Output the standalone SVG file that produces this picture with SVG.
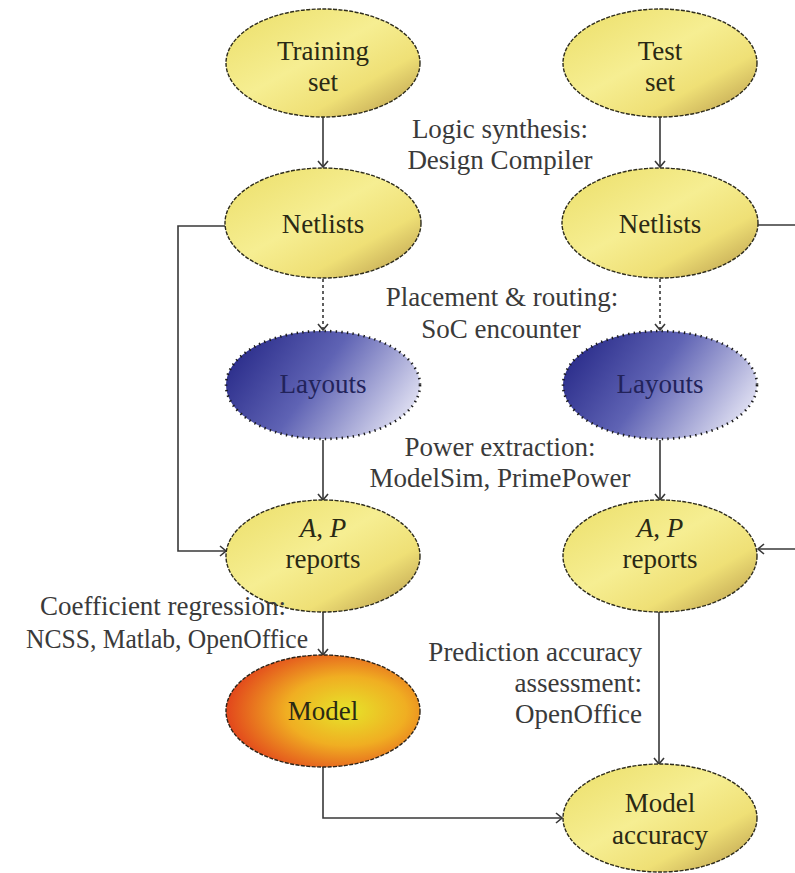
<svg xmlns="http://www.w3.org/2000/svg" width="795" height="873" viewBox="0 0 795 873">
  <style>
    .lbl { font-family: "Liberation Serif", "Times New Roman", serif; font-size: 27px; fill: #3a3a3a; }
    .node-txt { font-family: "Liberation Serif", "Times New Roman", serif; font-size: 27px; fill: #2a2914; text-anchor: middle; }
    .blue-txt { fill: #22235a; }
    .yellow { fill: url(#gYellow); stroke: #2e2c1c; stroke-width: 1.4; stroke-dasharray: 4 1.4; }
    .blue { fill: url(#gBlue); stroke: #1a1a1a; stroke-width: 2.6; stroke-dasharray: 1.4 4.2; }
    .orange { fill: url(#gOrange); stroke: #2e2418; stroke-width: 1.4; stroke-dasharray: 4 1.4; }
    .conn { fill: none; stroke: #383838; stroke-width: 1.6; }
    .dotted { stroke-dasharray: 3 3; }
  </style>
  <defs>
    <linearGradient id="gYellow" x1="0" y1="0" x2="1" y2="1">
      <stop offset="0" stop-color="#ebde68"/>
      <stop offset="0.45" stop-color="#f6ee92"/>
      <stop offset="0.7" stop-color="#efe076"/>
      <stop offset="1" stop-color="#b39448"/>
    </linearGradient>
    <linearGradient id="gBlue" x1="0" y1="0.3" x2="1" y2="0.7">
      <stop offset="0" stop-color="#2a2c8a"/>
      <stop offset="0.45" stop-color="#5f63b4"/>
      <stop offset="1" stop-color="#e4e4f4"/>
    </linearGradient>
    <radialGradient id="gOrange" cx="0.62" cy="0.5" r="0.62">
      <stop offset="0" stop-color="#e6e42a"/>
      <stop offset="0.5" stop-color="#f0ae22"/>
      <stop offset="1" stop-color="#e2461c"/>
    </radialGradient>
    <marker id="arrow" viewBox="0 0 12 12" refX="11" refY="6" markerWidth="12" markerHeight="12" markerUnits="userSpaceOnUse" orient="auto">
      <path d="M5,1 L11,6 L5,11" fill="none" stroke="#383838" stroke-width="1.6"/>
    </marker>
  </defs>

  <!-- connectors -->
  <g id="connectors">
    <line class="conn" x1="323" y1="117" x2="323" y2="167" marker-end="url(#arrow)"/>
    <line class="conn dotted" x1="323" y1="279" x2="323" y2="330" marker-end="url(#arrow)"/>
    <line class="conn" x1="323" y1="440" x2="323" y2="500" marker-end="url(#arrow)"/>
    <line class="conn" x1="323" y1="612" x2="323" y2="655" marker-end="url(#arrow)"/>
    <polyline class="conn" points="225,226 178,226 178,551 226,551" marker-end="url(#arrow)"/>
    <polyline class="conn" points="323,767 323,818 562,818" marker-end="url(#arrow)"/>

    <line class="conn" x1="660" y1="117" x2="660" y2="167" marker-end="url(#arrow)"/>
    <line class="conn dotted" x1="660" y1="279" x2="660" y2="330" marker-end="url(#arrow)"/>
    <line class="conn" x1="660" y1="440" x2="660" y2="500" marker-end="url(#arrow)"/>
    <line class="conn" x1="659" y1="612" x2="659" y2="764" marker-end="url(#arrow)"/>
    <line class="conn" x1="758" y1="225" x2="795" y2="225"/>
    <line class="conn" x1="795" y1="549" x2="758" y2="549" marker-end="url(#arrow)"/>
  </g>

  <!-- left column -->
  <g id="training-set">
    <ellipse class="yellow" cx="323" cy="63" rx="97" ry="54"/>
    <text class="node-txt" x="323" y="60">Training</text>
    <text class="node-txt" x="323" y="91">set</text>
  </g>
  <g id="netlists-train">
    <ellipse class="yellow" cx="323" cy="223" rx="98" ry="55"/>
    <text class="node-txt" x="323" y="233">Netlists</text>
  </g>
  <g id="layouts-train">
    <ellipse class="blue" cx="323" cy="385" rx="97" ry="54"/>
    <text class="node-txt blue-txt" x="323" y="393">Layouts</text>
  </g>
  <g id="reports-train">
    <ellipse class="yellow" cx="323" cy="556" rx="97" ry="56"/>
    <text class="node-txt" x="323" y="537"><tspan font-style="italic">A</tspan>, <tspan font-style="italic">P</tspan></text>
    <text class="node-txt" x="323" y="568">reports</text>
  </g>
  <g id="model">
    <ellipse class="orange" cx="323" cy="711" rx="97" ry="56"/>
    <text class="node-txt" x="323" y="720">Model</text>
  </g>

  <!-- right column -->
  <g id="test-set">
    <ellipse class="yellow" cx="660" cy="63" rx="97" ry="54"/>
    <text class="node-txt" x="660" y="60">Test</text>
    <text class="node-txt" x="660" y="91">set</text>
  </g>
  <g id="netlists-test">
    <ellipse class="yellow" cx="660" cy="223" rx="98" ry="55"/>
    <text class="node-txt" x="660" y="233">Netlists</text>
  </g>
  <g id="layouts-test">
    <ellipse class="blue" cx="660" cy="385" rx="97" ry="54"/>
    <text class="node-txt blue-txt" x="660" y="393">Layouts</text>
  </g>
  <g id="reports-test">
    <ellipse class="yellow" cx="660" cy="556" rx="97" ry="56"/>
    <text class="node-txt" x="660" y="537"><tspan font-style="italic">A</tspan>, <tspan font-style="italic">P</tspan></text>
    <text class="node-txt" x="660" y="568">reports</text>
  </g>
  <g id="model-accuracy">
    <ellipse class="yellow" cx="660" cy="818" rx="97" ry="54"/>
    <text class="node-txt" x="660" y="812">Model</text>
    <text class="node-txt" x="660" y="844">accuracy</text>
  </g>

  <!-- step labels -->
  <g id="step-labels">
    <text class="lbl" x="500" y="138" text-anchor="middle">Logic synthesis:</text>
    <text class="lbl" x="500" y="169" text-anchor="middle">Design Compiler</text>
    <text class="lbl" x="502" y="306" text-anchor="middle">Placement &amp; routing:</text>
    <text class="lbl" x="501" y="338" text-anchor="middle">SoC encounter</text>
    <text class="lbl" x="500" y="456" text-anchor="middle">Power extraction:</text>
    <text class="lbl" x="500" y="487" text-anchor="middle">ModelSim, PrimePower</text>
    <text class="lbl" x="163" y="615" text-anchor="middle">Coefficient regression:</text>
    <text class="lbl" x="167" y="648" text-anchor="middle" textLength="282" lengthAdjust="spacingAndGlyphs">NCSS, Matlab, OpenOffice</text>
    <text class="lbl" x="642" y="661" text-anchor="end">Prediction accuracy</text>
    <text class="lbl" x="642" y="692" text-anchor="end">assessment:</text>
    <text class="lbl" x="642" y="723" text-anchor="end">OpenOffice</text>
  </g>
</svg>
